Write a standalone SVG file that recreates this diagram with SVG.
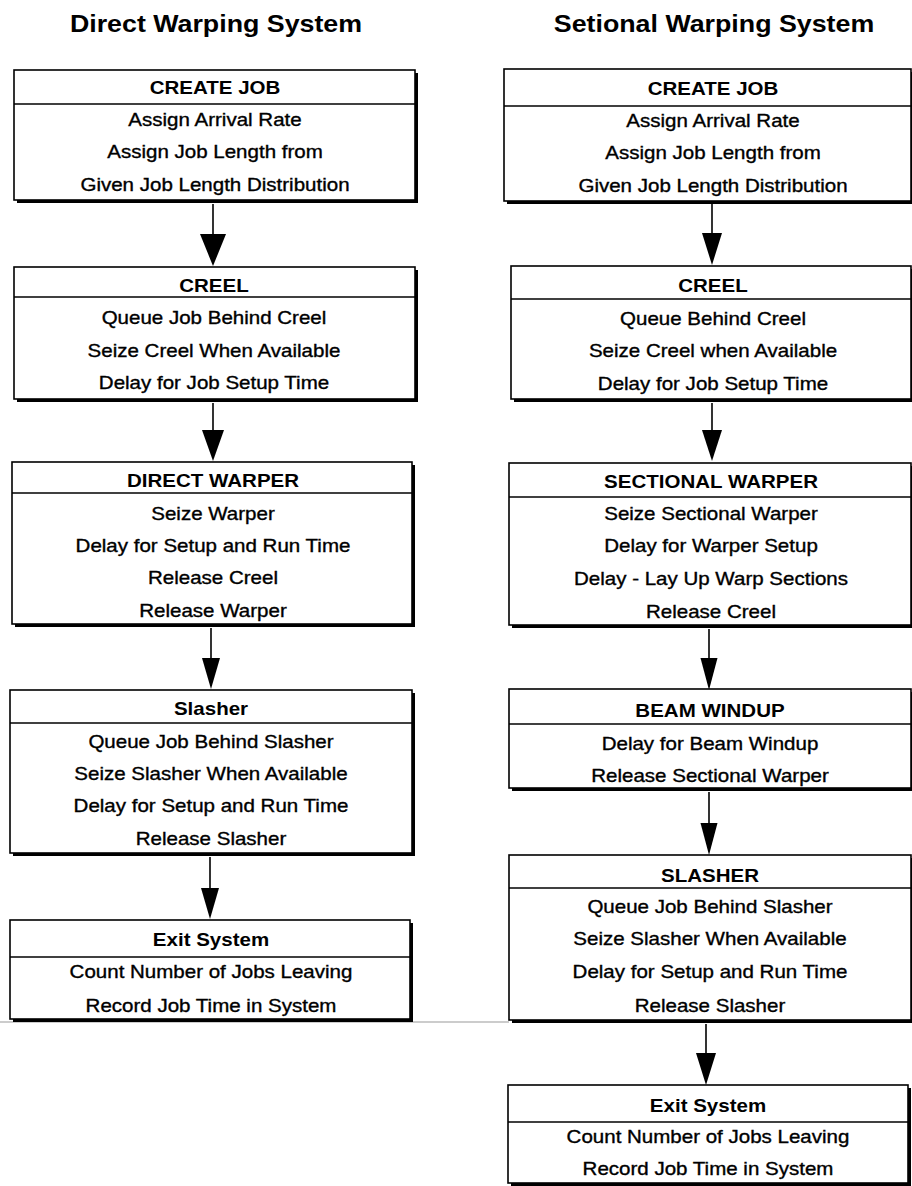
<svg xmlns="http://www.w3.org/2000/svg" width="912" height="1186" viewBox="0 0 912 1186">
<style>
.bg{fill:#fff}
.box{fill:#fff;stroke:#000;stroke-width:1.6}
.sh{fill:#000}
.sep{stroke:#000;stroke-width:1.4}
.title{font-family:"Liberation Sans",Arial,Helvetica,sans-serif;font-weight:bold;font-size:23.5px;text-anchor:middle;fill:#000}
.hd{font-family:"Liberation Sans",Arial,Helvetica,sans-serif;font-weight:bold;font-size:18px;text-anchor:middle;fill:#000}
.tx{font-family:"Liberation Sans",Arial,Helvetica,sans-serif;font-size:18px;text-anchor:middle;fill:#000;stroke:#000;stroke-width:0.35}
.ln{stroke:#000;stroke-width:1.6}
.head{fill:#000}
.scan{stroke:#999;stroke-width:1}
</style>
<rect class="bg" x="0" y="0" width="912" height="1186"/>
<g id="titles">
<g transform="translate(216 0) scale(1.14 1)"><text class="title" x="0" y="32">Direct Warping System</text></g>
<g transform="translate(714 0) scale(1.14 1)"><text class="title" x="0" y="32">Setional Warping System</text></g>
</g>
<line class="scan" x1="0" y1="1022" x2="509" y2="1022"/>
<g id="connectors">
<line class="ln" x1="213" y1="204" x2="213" y2="236"/><polygon class="head" points="200,234 226,234 213,266"/>
<line class="ln" x1="213" y1="403" x2="213" y2="432"/><polygon class="head" points="202,430 224,430 213,461"/>
<line class="ln" x1="211" y1="628" x2="211" y2="660"/><polygon class="head" points="202,658 220,658 211,689"/>
<line class="ln" x1="210" y1="857" x2="210" y2="890"/><polygon class="head" points="201,888 219,888 210,919"/>
<line class="ln" x1="712" y1="204" x2="712" y2="235"/><polygon class="head" points="702,233 722,233 712,265"/>
<line class="ln" x1="712" y1="403" x2="712" y2="432"/><polygon class="head" points="702,430 722,430 712,461"/>
<line class="ln" x1="709" y1="629" x2="709" y2="660"/><polygon class="head" points="700.5,658 717.5,658 709,690"/>
<line class="ln" x1="709" y1="792" x2="709" y2="825"/><polygon class="head" points="700.5,823 717.5,823 709,855"/>
<line class="ln" x1="706" y1="1024" x2="706" y2="1055"/><polygon class="head" points="696,1053 716,1053 706,1085"/>
</g>
<g id="L1">
<rect class="sh" x="17" y="73" width="401" height="130"/>
<rect class="box" x="14" y="70" width="401" height="130"/>
<line class="sep" x1="14" y1="104" x2="415" y2="104"/>
<g transform="translate(215 0) scale(1.14 1)">
<text class="hd" x="0" y="94">CREATE JOB</text>
<text class="tx" x="0" y="126">Assign Arrival Rate</text>
<text class="tx" x="0" y="158">Assign Job Length from</text>
<text class="tx" x="0" y="191">Given Job Length Distribution</text>
</g>
</g>
<g id="L2">
<rect class="sh" x="17" y="270" width="401" height="132"/>
<rect class="box" x="14" y="267" width="401" height="132"/>
<line class="sep" x1="14" y1="297" x2="415" y2="297"/>
<g transform="translate(214 0) scale(1.14 1)">
<text class="hd" x="0" y="292">CREEL</text>
<text class="tx" x="0" y="324">Queue Job Behind Creel</text>
<text class="tx" x="0" y="357">Seize Creel When Available</text>
<text class="tx" x="0" y="389">Delay for Job Setup Time</text>
</g>
</g>
<g id="L3">
<rect class="sh" x="15" y="465" width="400" height="162"/>
<rect class="box" x="12" y="462" width="400" height="162"/>
<line class="sep" x1="12" y1="493" x2="412" y2="493"/>
<g transform="translate(213 0) scale(1.14 1)">
<text class="hd" x="0" y="487">DIRECT WARPER</text>
<text class="tx" x="0" y="520">Seize Warper</text>
<text class="tx" x="0" y="552">Delay for Setup and Run Time</text>
<text class="tx" x="0" y="584">Release Creel</text>
<text class="tx" x="0" y="617">Release Warper</text>
</g>
</g>
<g id="L4">
<rect class="sh" x="13" y="693" width="402" height="163"/>
<rect class="box" x="10" y="690" width="402" height="163"/>
<line class="sep" x1="10" y1="723" x2="412" y2="723"/>
<g transform="translate(211 0) scale(1.14 1)">
<text class="hd" x="0" y="715">Slasher</text>
<text class="tx" x="0" y="748">Queue Job Behind Slasher</text>
<text class="tx" x="0" y="780">Seize Slasher When Available</text>
<text class="tx" x="0" y="812">Delay for Setup and Run Time</text>
<text class="tx" x="0" y="845">Release Slasher</text>
</g>
</g>
<g id="L5">
<rect class="sh" x="13" y="923" width="400" height="99"/>
<rect class="box" x="10" y="920" width="400" height="99"/>
<line class="sep" x1="10" y1="957" x2="410" y2="957"/>
<g transform="translate(211 0) scale(1.14 1)">
<text class="hd" x="0" y="946">Exit System</text>
<text class="tx" x="0" y="978">Count Number of Jobs Leaving</text>
<text class="tx" x="0" y="1012">Record Job Time in System</text>
</g>
</g>
<g id="R1">
<rect class="sh" x="507" y="72" width="407" height="132"/>
<rect class="box" x="504" y="69" width="407" height="132"/>
<line class="sep" x1="504" y1="106" x2="911" y2="106"/>
<g transform="translate(713 0) scale(1.14 1)">
<text class="hd" x="0" y="95">CREATE JOB</text>
<text class="tx" x="0" y="127">Assign Arrival Rate</text>
<text class="tx" x="0" y="159">Assign Job Length from</text>
<text class="tx" x="0" y="192">Given Job Length Distribution</text>
</g>
</g>
<g id="R2">
<rect class="sh" x="514" y="269" width="400" height="133"/>
<rect class="box" x="511" y="266" width="400" height="133"/>
<line class="sep" x1="511" y1="299" x2="911" y2="299"/>
<g transform="translate(713 0) scale(1.14 1)">
<text class="hd" x="0" y="292">CREEL</text>
<text class="tx" x="0" y="325">Queue Behind Creel</text>
<text class="tx" x="0" y="357">Seize Creel when Available</text>
<text class="tx" x="0" y="390">Delay for Job Setup Time</text>
</g>
</g>
<g id="R3">
<rect class="sh" x="512" y="466" width="402" height="162"/>
<rect class="box" x="509" y="463" width="402" height="162"/>
<line class="sep" x1="509" y1="497" x2="911" y2="497"/>
<g transform="translate(711 0) scale(1.14 1)">
<text class="hd" x="0" y="488">SECTIONAL WARPER</text>
<text class="tx" x="0" y="520">Seize Sectional Warper</text>
<text class="tx" x="0" y="552">Delay for Warper Setup</text>
<text class="tx" x="0" y="585">Delay - Lay Up Warp Sections</text>
<text class="tx" x="0" y="618">Release Creel</text>
</g>
</g>
<g id="R4">
<rect class="sh" x="512" y="692" width="402" height="99"/>
<rect class="box" x="509" y="689" width="402" height="99"/>
<line class="sep" x1="509" y1="724" x2="911" y2="724"/>
<g transform="translate(710 0) scale(1.14 1)">
<text class="hd" x="0" y="717">BEAM WINDUP</text>
<text class="tx" x="0" y="750">Delay for Beam Windup</text>
<text class="tx" x="0" y="782">Release Sectional Warper</text>
</g>
</g>
<g id="R5">
<rect class="sh" x="512" y="858" width="402" height="165"/>
<rect class="box" x="509" y="855" width="402" height="165"/>
<line class="sep" x1="509" y1="888" x2="911" y2="888"/>
<g transform="translate(710 0) scale(1.14 1)">
<text class="hd" x="0" y="882">SLASHER</text>
<text class="tx" x="0" y="913">Queue Job Behind Slasher</text>
<text class="tx" x="0" y="945">Seize Slasher When Available</text>
<text class="tx" x="0" y="978">Delay for Setup and Run Time</text>
<text class="tx" x="0" y="1012">Release Slasher</text>
</g>
</g>
<g id="R6">
<rect class="sh" x="511" y="1088" width="400" height="98"/>
<rect class="box" x="508" y="1085" width="400" height="98"/>
<line class="sep" x1="508" y1="1122" x2="908" y2="1122"/>
<g transform="translate(708 0) scale(1.14 1)">
<text class="hd" x="0" y="1112">Exit System</text>
<text class="tx" x="0" y="1143">Count Number of Jobs Leaving</text>
<text class="tx" x="0" y="1175">Record Job Time in System</text>
</g>
</g>
</svg>
